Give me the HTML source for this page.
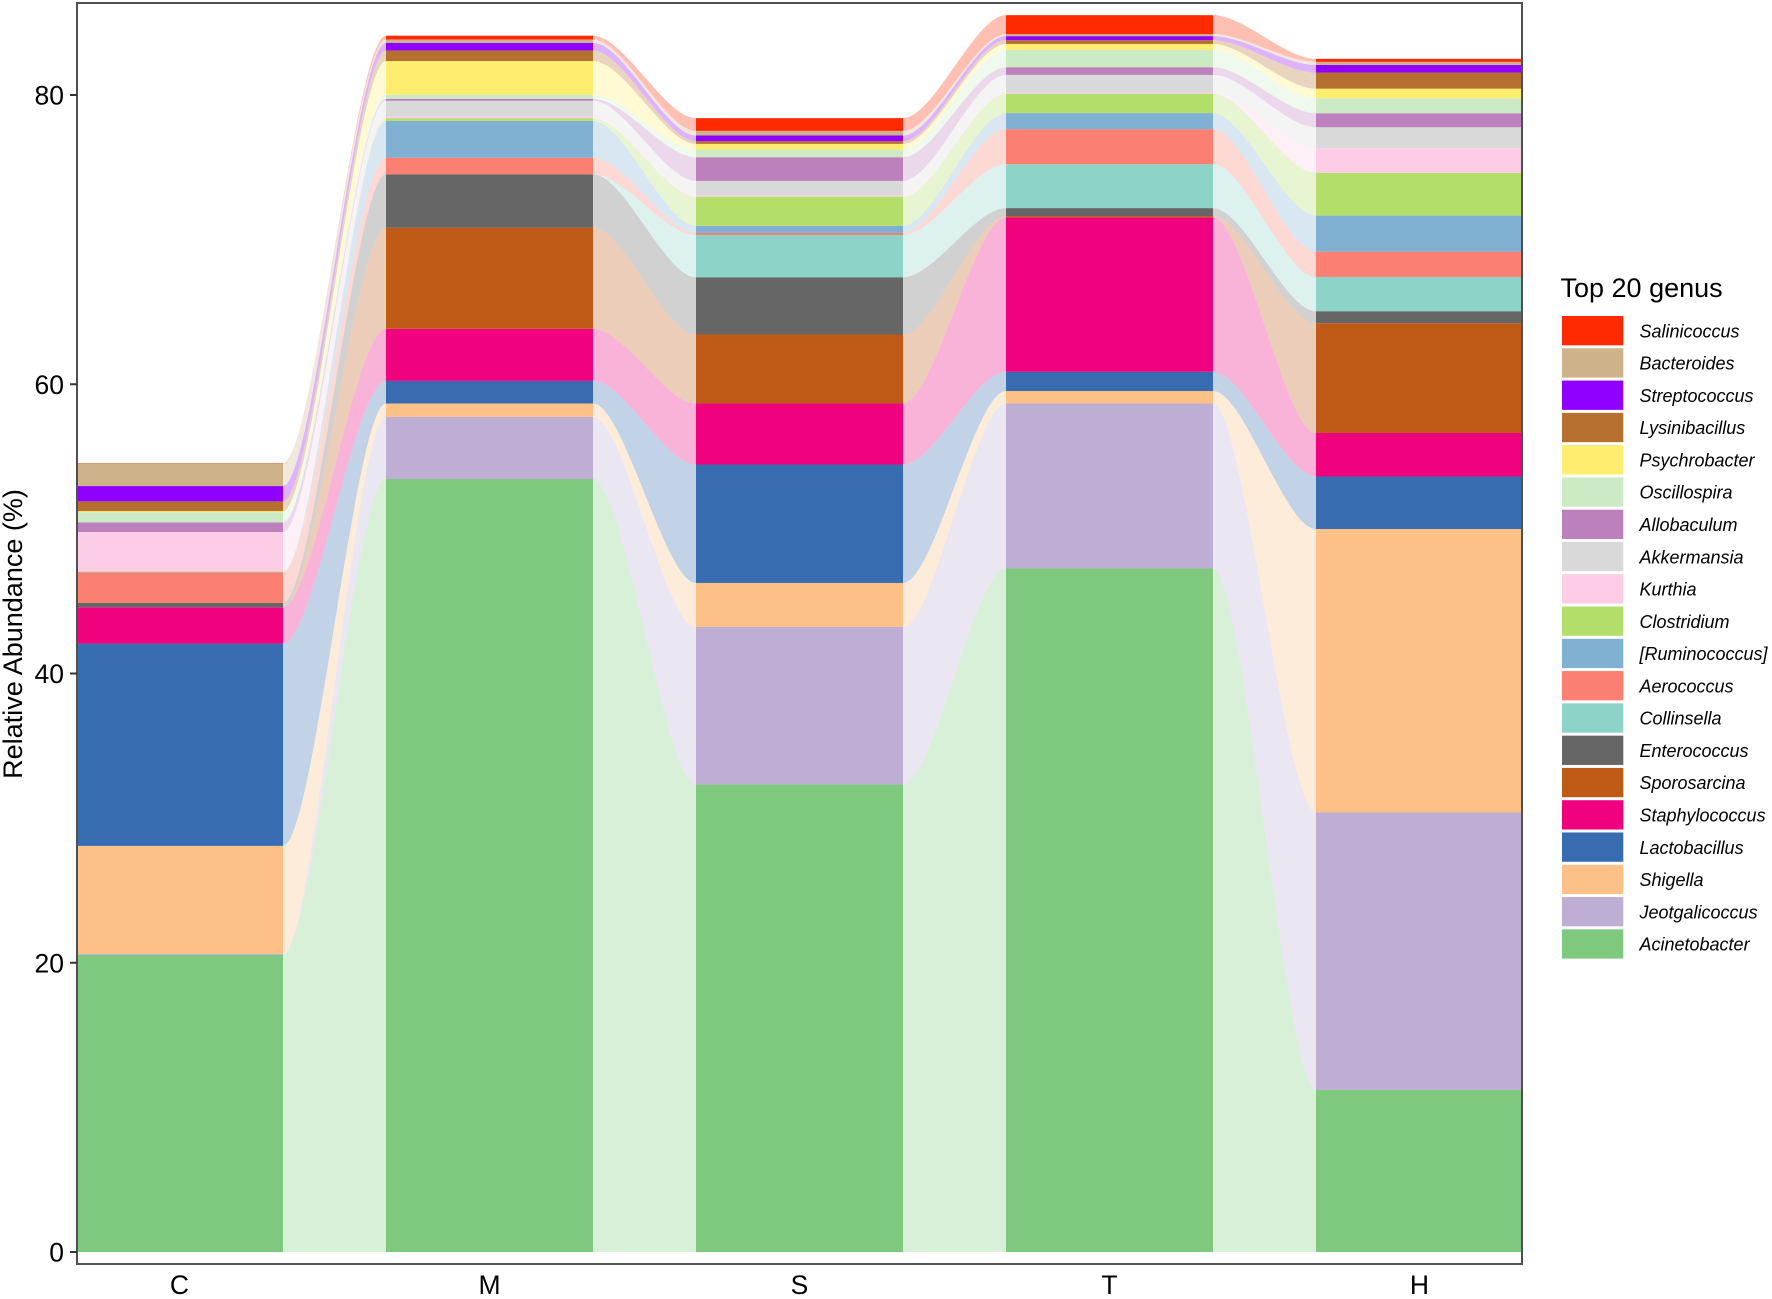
<!DOCTYPE html>
<html lang="en">
<head>
<meta charset="utf-8">
<title>Top 20 genus relative abundance</title>
<style>
html,body{margin:0;padding:0;background:#fff}
svg{display:block;font-family:"Liberation Sans",sans-serif}
</style>
</head>
<body>
<svg id="chart" xmlns="http://www.w3.org/2000/svg" width="1772" height="1299" viewBox="0 0 1772 1299">
  <rect x="0" y="0" width="1772" height="1299" fill="#ffffff"/>
  <defs>
    <clipPath id="panel-clip"><rect x="77" y="3" width="1445" height="1261"/></clipPath>
  </defs>
  <g id="flows" clip-path="url(#panel-clip)"></g>
  <g id="bars" clip-path="url(#panel-clip)"></g>
  <rect x="77" y="3" width="1445" height="1261" fill="none" stroke="#505050" stroke-width="2"/>
  <g id="y-axis"></g>
  <g id="x-axis"></g>
  <text transform="translate(22,634) rotate(-90)" text-anchor="middle" font-size="27" fill="#000">Relative Abundance (%)</text>
  <g id="legend">
    <text x="1560.5" y="297" font-size="27" fill="#000">Top 20 genus</text>
  </g>
</svg>
<script>
// ---- data (percent relative abundance per sample, order C, M, S, T, H) ----
const samples = ["C", "M", "S", "T", "H"];
const yTicks = [0, 20, 40, 60, 80];

const acinetobacter   = [20.54, 53.45, 32.33, 47.26, 11.20];
const jeotgalicoccus  = [0.07, 4.29, 10.89, 11.41, 19.19];
const shigella        = [7.47, 0.93, 3.04, 0.86, 19.60];
const lactobacillus   = [13.99, 1.56, 8.19, 1.33, 3.63];
const staphylococcus  = [2.51, 3.60, 4.22, 10.68, 3.01];
const sporosarcina    = [0.00, 7.00, 4.77, 0.09, 7.59];
const enterococcus    = [0.30, 3.69, 3.96, 0.55, 0.83];
const collinsella     = [0.00, 0.00, 2.92, 3.04, 2.37];
const aerococcus      = [2.12, 1.15, 0.14, 2.42, 1.75];
const ruminococcus    = [0.02, 2.54, 0.50, 1.11, 2.49];
const clostridium     = [0.03, 0.19, 2.01, 1.33, 2.95];
const kurthia         = [2.71, 0.14, 0.12, 0.07, 1.71];
const akkermansia     = [0.02, 1.06, 0.97, 1.24, 1.45];
const allobaculum     = [0.67, 0.14, 1.64, 0.53, 0.97];
const oscillospira    = [0.71, 0.28, 0.53, 1.20, 1.04];
const psychrobacter   = [0.07, 2.33, 0.39, 0.41, 0.66];
const lysinibacillus  = [0.67, 0.73, 0.19, 0.26, 1.11];
const streptococcus   = [1.06, 0.53, 0.39, 0.28, 0.53];
const bacteroides     = [1.57, 0.23, 0.32, 0.14, 0.21];
const salinicoccus    = [0.02, 0.26, 0.88, 1.31, 0.21];

// stacking order: bottom to top
const genusNames = ["Acinetobacter","Jeotgalicoccus","Shigella","Lactobacillus","Staphylococcus","Sporosarcina","Enterococcus","Collinsella","Aerococcus","[Ruminococcus]","Clostridium","Kurthia","Akkermansia","Allobaculum","Oscillospira","Psychrobacter","Lysinibacillus","Streptococcus","Bacteroides","Salinicoccus"];
const genusValues = [acinetobacter,jeotgalicoccus,shigella,lactobacillus,staphylococcus,sporosarcina,enterococcus,collinsella,aerococcus,ruminococcus,clostridium,kurthia,akkermansia,allobaculum,oscillospira,psychrobacter,lysinibacillus,streptococcus,bacteroides,salinicoccus];
const genusColors = ["#7FC97F","#BEAED4","#FDC086","#386CB0","#F0027F","#BF5B17","#666666","#8DD3C7","#FB8072","#80B1D3","#B3DE69","#FCCDE5","#D9D9D9","#BC80BD","#CCEBC5","#FFED6F","#B57030","#9000FF","#CDB28A","#FF2A00"];

// ---- axis functions ----
const SVGNS = "http://www.w3.org/2000/svg";
function yScale(v) { return 1252 - v * 14.4625; }
function barLeft(i) { return 76 + 310 * i; }
function barRight(i) { return barLeft(i) + 207; }
function barCenter(i) { return barLeft(i) + 103.5; }
function slug(name) { return name.replace(/[\[\]]/g, "").toLowerCase(); }
function make(tag, attrs) {
  const el = document.createElementNS(SVGNS, tag);
  for (const k in attrs) el.setAttribute(k, attrs[k]);
  return el;
}

// cumulative stack boundaries
const lower = [];
const upper = [];
{
  const running = samples.map(function () { return 0; });
  genusValues.forEach(function (vals, g) {
    lower[g] = running.slice();
    vals.forEach(function (v, i) { running[i] += v; });
    upper[g] = running.slice();
  });
}

const flowLayer = document.getElementById("flows");
const barLayer = document.getElementById("bars");
const CURVE = 0.3;

genusNames.forEach(function (name, g) {
  // flows between adjacent bars
  for (let i = 0; i < samples.length - 1; i++) {
    const x0 = barRight(i), x1 = barLeft(i + 1);
    const c0 = x0 + (x1 - x0) * CURVE, c1 = x1 - (x1 - x0) * CURVE;
    const t0 = yScale(upper[g][i]), t1 = yScale(upper[g][i + 1]);
    const b0 = yScale(lower[g][i]), b1 = yScale(lower[g][i + 1]);
    const d = "M" + x0 + " " + t0 +
      "C" + c0 + " " + t0 + " " + c1 + " " + t1 + " " + x1 + " " + t1 +
      "L" + x1 + " " + b1 +
      "C" + c1 + " " + b1 + " " + c0 + " " + b0 + " " + x0 + " " + b0 + "Z";
    const flow = make("path", { d: d, fill: genusColors[g], "fill-opacity": 0.3 });
    
    
    flowLayer.appendChild(flow);
  }
  // bars
  samples.forEach(function (s, i) {
    const yTop = yScale(upper[g][i]);
    const yBot = yScale(lower[g][i]);
    const bar = make("rect", { x: barLeft(i), y: yTop, width: barRight(i) - barLeft(i), height: Math.max(0, yBot - yTop), fill: genusColors[g] });
    
    
    barLayer.appendChild(bar);
  });
});

// y axis
const yAxis = document.getElementById("y-axis");
yTicks.forEach(function (t) {
  const y = yScale(t);
  const tick = make("line", { x1: 70, x2: 77, y1: y, y2: y, stroke: "#333333", "stroke-width": 2 });
  
  
  yAxis.appendChild(tick);
  const label = make("text", { x: 64, y: y + 9.5, "text-anchor": "end", "font-size": 26.5, fill: "#000" });
  label.textContent = String(t);
  
  
  yAxis.appendChild(label);
});

// x axis
const xAxis = document.getElementById("x-axis");
samples.forEach(function (s, i) {
  const label = make("text", { x: barCenter(i), y: 1294, "text-anchor": "middle", "font-size": 26.5, fill: "#000" });
  label.textContent = s;
  
  
  xAxis.appendChild(label);
});

// legend: top of stack listed first
const legend = document.getElementById("legend");
for (let row = 0; row < genusNames.length; row++) {
  const g = genusNames.length - 1 - row;
  const top = 316 + row * 32.28;
  const swatch = make("rect", { x: 1562, y: top, width: 61.3, height: 29.3, fill: genusColors[g] });
  
  
  legend.appendChild(swatch);
  const text = make("text", { x: 1639.5, y: top + 21.3, "font-size": 18, "font-style": "italic", fill: "#000" });
  text.textContent = genusNames[g];
  
  
  legend.appendChild(text);
}
</script>
</body>
</html>
